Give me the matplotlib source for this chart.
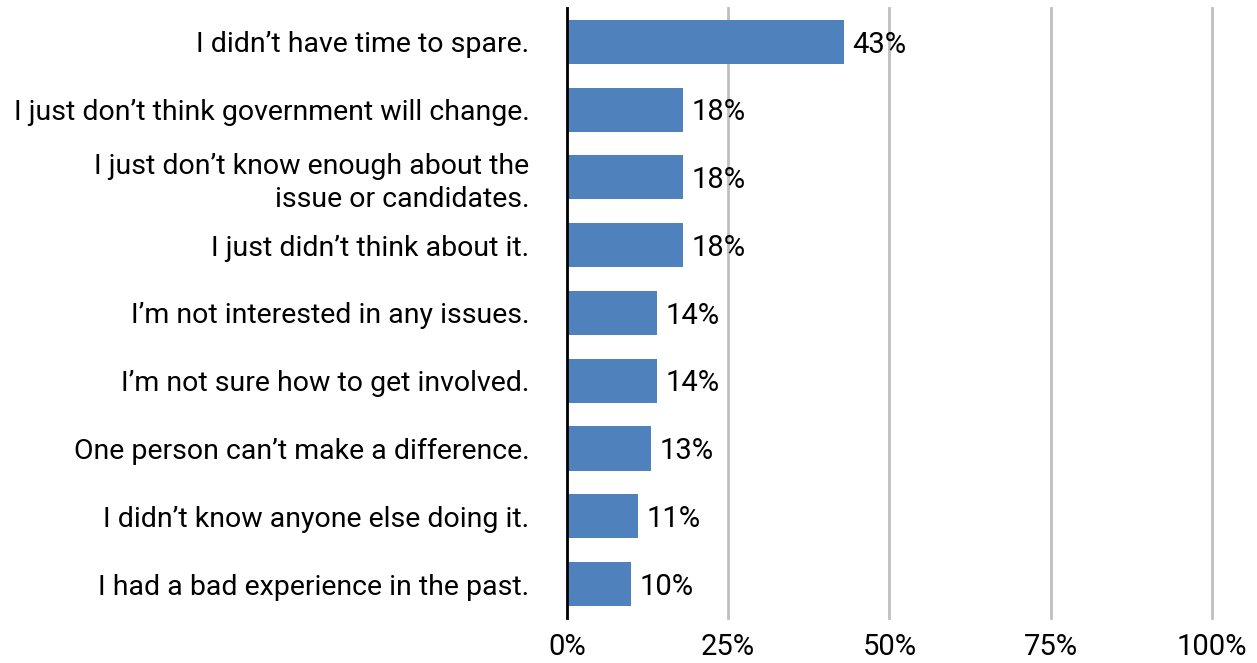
import matplotlib as mpl

mpl.use('agg')

import matplotlib.pyplot as plt

plt.rcParams['font.family'] = ['Roboto', 'DejaVu Sans']

reasons = ["I didn\u2019t have time to spare.",
           "I just don\u2019t think government will change.",
           "I just don\u2019t know enough about the\nissue or candidates.",
           "I just didn\u2019t think about it.",
           "I\u2019m not interested in any issues.",
           "I\u2019m not sure how to get involved.",
           "One person can\u2019t make a difference.",
           "I didn\u2019t know anyone else doing it.",
           "I had a bad experience in the past."]
shares = [43, 18, 18, 18, 14, 14, 13, 11, 10]
xticks = [0, 25, 50, 75, 100]

fig = plt.figure(figsize=(12.57, 6.63), dpi=100)
ax = fig.add_axes([0.451, 0.068, 0.513, 0.920])

pos = list(range(len(reasons)))
ax.barh(pos, shares, height=0.65, color='#4F81BD', zorder=3)

for p, v in zip(pos, shares):
    ax.annotate("%d%%" % v, (v, p), xytext=(6, -2), textcoords='offset points',
                va='center', ha='left', fontsize=21, color='black', zorder=4)

ax.set_xlim(0, 100)
ax.set_ylim(len(reasons) - 0.5, -0.5)
ax.set_yticks(pos)
ax.set_yticklabels(reasons, fontsize=20.5, linespacing=1.25)
ax.set_xticks(xticks)
ax.set_xticklabels(["%d%%" % t for t in xticks], fontsize=21)
ax.tick_params(axis='y', length=0, pad=27)
ax.tick_params(axis='x', length=0, pad=11)

ax.xaxis.grid(True, color='#BFBFBF', linewidth=2, zorder=0)
for gl in ax.get_xgridlines():
    gl.set_clip_on(False)
for s in ['top', 'right', 'bottom']:
    ax.spines[s].set_visible(False)
ax.spines['left'].set_linewidth(2)
ax.spines['left'].set_zorder(5)

fig.savefig('out.png', dpi=100)
